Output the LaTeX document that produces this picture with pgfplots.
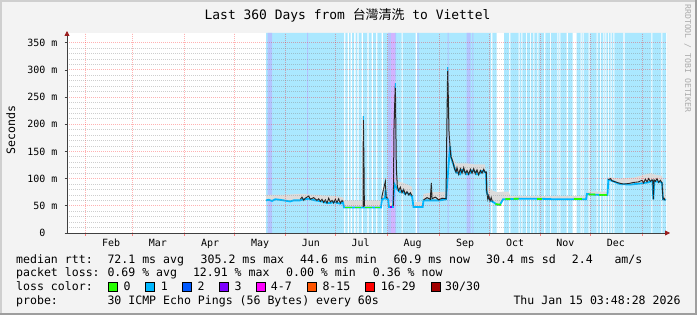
\documentclass[border=0pt]{standalone}
\usepackage{fontspec}
\setmainfont{DejaVu Sans Mono}
\newfontfamily\cjk{Noto Sans CJK TC}
\usepackage{pgfplots}
\usepackage{pgfplotstable}
\pgfplotsset{compat=1.18}
\usetikzlibrary{arrows.meta}
\definecolor{bgc}{HTML}{F3F3F3}
\definecolor{shadea}{HTML}{CFCFCF}
\definecolor{shadeb}{HTML}{9E9E9E}
\definecolor{lossbgA}{HTML}{ABE8FF}
\definecolor{lossbgB}{HTML}{B4C4FF}
\definecolor{lossbgC}{HTML}{D2B4FF}
\definecolor{lA}{HTML}{26FF00}
\definecolor{lB}{HTML}{00B8FF}
\definecolor{lC}{HTML}{0059FF}
\definecolor{lD}{HTML}{7E00FF}
\definecolor{lE}{HTML}{FF00FF}
\definecolor{lF}{HTML}{FF5500}
\definecolor{lG}{HTML}{FF0000}
\definecolor{lH}{HTML}{A10000}
\definecolor{smoke}{HTML}{DCDCDC}
\definecolor{arrowc}{HTML}{9A1C1C}
\definecolor{axisc}{HTML}{404040}
\definecolor{wm}{HTML}{ABABAB}
\newcommand{\fs}[1]{\fontsize{#1}{#1}\selectfont}

\pgfplotstableread{
x y
119.4 60
121 61
123 59
125 62
127.8 61
130 60
133.8 58
136 60
139.8 60
142 62
145.2 63
148.8 60
151 59
153 58
155 56
157.8 55
160 57
161.4 56
163.8 54
165.6 56
166.2 47
188.4 47
189 62
190.8 64
191.1 80
191.5 63
192.6 62
193.2 48
195.6 48
196.4 90
198.2 80
199.8 75
201 78
202.8 72
204 74
205.8 70
207 68
207.9 48
213.4 48
213.9 60
223.8 60
227.4 62
229.8 160
230.4 140
231.6 128
233.4 112
235.8 108
237 116
238.8 112
240 108
241.8 110
243 115
244.8 113
246 108
247.8 110
249 114
250.8 112
251.4 110
251.8 75
253.8 60
256.2 56
258 52
259.8 52
261.6 62
271.8 63
283.8 63
292.8 62
301.8 62
311.4 62
312 72
313.8 71
319.8 70
324.3 70
324.8 98
327 96
331.8 90
337.8 89
343.8 91
348.6 93
351.2 96
351.8 62
352.4 95
355.8 94
357.0 92
357.6 62
359.4 61
}\medtab

\begin{document}
\begin{tikzpicture}[x=1bp,y=1bp]
\useasboundingbox (0,0) rectangle (697,315);
\fill[bgc] (0,0) rectangle (697,315);
\fill[shadea] (0,0) rectangle (2,315);
\fill[shadea] (0,313) rectangle (697,315);
\fill[shadeb] (695,0) rectangle (697,315);
\fill[shadeb] (0,0) rectangle (697,2);
\fill[white] (67,82) rectangle (667,282);
\begin{axis}[
  at={(67bp,82bp)}, anchor=south west, scale only axis,
  width=600bp, height=200bp,
  xmin=0, xmax=360, ymin=0, ymax=367.8,
  axis x line*=bottom, axis y line*=left,
  x axis line style={draw=axisc, line width=0.8bp, shorten >=-3bp, -{Triangle[length=5bp,width=5bp,color=arrowc]}},
  y axis line style={draw=axisc, line width=0.8bp, shorten >=-2bp, -{Triangle[length=5bp,width=5bp,color=arrowc]}},
  axis on top,
  xtick={11.2,39.4,70.4,100.4,130.8,161.2,192.2,223.4,253.4,283.8,313.8,345.0},
  xticklabels={},
  extra x ticks={26.4,54.5,85.8,115.8,146.3,176.1,207.4,238.8,268.8,299.0,329.3},
  extra x tick labels={Feb,Mar,Apr,May,Jun,Jul,Aug,Sep,Oct,Nov,Dec},
  extra x tick style={grid=none, major tick length=0pt},
  ytick={0,50,100,150,200,250,300,350},
  yticklabels={0\hphantom{\ m},50 m,100 m,150 m,200 m,250 m,300 m,350 m},
  minor y tick num=4,
  xmajorgrids, ymajorgrids, yminorgrids,
  major grid style={draw=red, opacity=0.3, line width=0.8bp, dash pattern=on 1bp off 1bp},
  minor grid style={draw=gray, opacity=0.38, line width=0.8bp, dash pattern=on 1bp off 1bp},
  tick align=outside,
  major tick length=2.5bp, minor tick length=0pt,
  xtick style={draw=red!50, line width=0.7bp},
  ytick style={draw=axisc, line width=0.7bp},
  tick label style={font=\fs{10}},
  xticklabel style={inner sep=0pt, anchor=north, yshift=-6bp},
  yticklabel style={inner sep=0pt, anchor=east, xshift=-7bp},
]
% loss background
\addplot[ybar interval, fill=lossbgA, draw=none] coordinates {
(119.4,368) (166.2,0) (167.0,368) (168.4,0) (169.2,368) (170.2,0) (171.0,368) (172.2,0) (173.2,368) (174.2,0) (175.0,368) (176.8,0) (177.6,368) (180.2,0) (181.0,368) (182.8,0) (183.6,368) (185.4,0) (186.2,368) (188.8,0) (189.6,368) (200.8,0) (201.4,368) (209.2,0) (210.0,368) (254.4,0) (255.2,368) (257.8,0) (262.2,368) (265.2,0) (266.0,368) (271.0,0) (271.6,368) (272.6,0) (273.2,368) (275.4,0) (276.0,368) (277.8,0) (278.4,368) (279.8,0) (280.4,368) (282.2,0) (282.8,368) (286.2,0) (287.0,368) (289.8,0) (290.4,368) (294.2,0) (294.8,368) (295.4,0) (296.0,368) (299.8,0) (300.6,368) (303.4,0) (305.8,368) (308.2,0) (308.8,368) (309.4,0) (310.0,368) (313.0,0) (313.6,368) (317.8,0) (318.4,368) (319.8,0) (320.4,368) (321.8,0) (322.4,368) (323.0,0) (323.6,368) (324.6,0) (325.2,368) (326.2,0) (326.8,368) (327.8,0) (328.4,368) (333.8,0) (334.6,368) (350.6,0) (351.2,368) (356.6,0) (357.2,368) (359.4,0)};
\addplot[ybar interval, fill=lossbgB, draw=none] coordinates {
(120.4,368) (123.0,0) (144.0,368) (144.6,0) (192.6,368) (194.4,0) (196.6,368) (197.4,0) (210.4,368) (211.0,0) (228.4,368) (229.0,0) (239.8,368) (242.2,0) (243.2,368) (243.8,0)};
\addplot[ybar interval, fill=lossbgC, draw=none] coordinates {(194.4,368) (196.6,0)};
% smoke: upper bound forward, median backward
\addplot[fill=smoke, draw=none] coordinates {
(119.4,70) (130,70) (140,72) (150,70) (160,68) (165.6,66) (166.2,60) (177.2,60) (177.8,225) (178.4,60) (188.4,60) (189,72) (191.1,100) (191.5,75) (192.6,70) (193.2,56) (195.6,56) (196.2,200) (197.0,285) (197.6,130) (198.2,95) (202,92) (205,88) (207,85) (207.9,57) (213.4,57) (213.9,72) (218,74) (218.6,98) (219,75) (227.4,76) (227.8,175) (228.4,312) (229.2,195) (230.4,150) (231.6,140) (233.4,128) (240,128) (245,126) (250.8,126) (251.8,90) (253.8,80) (258,75) (261.6,76) (265,76) (266,68) (283.8,68) (311.4,68) (312,76) (324.3,76) (324.8,103) (331.8,100) (340,102) (345,106) (350,110) (352,108) (357,105) (359.4,68)
(359.4,61) (357.6,62) (357.0,92) (355.8,94) (352.4,95) (351.8,62) (351.2,96) (348.6,93) (343.8,91) (337.8,89) (331.8,90) (327,96) (324.8,98) (324.3,70) (319.8,70) (313.8,71) (312,72) (311.4,62) (301.8,62) (292.8,62) (283.8,63) (271.8,63) (261.6,62) (259.8,52) (258,52) (256.2,56) (253.8,60) (251.8,75) (251.4,110) (250.8,112) (249,114) (247.8,110) (246,108) (244.8,113) (243,115) (241.8,110) (240,108) (238.8,112) (237,116) (235.8,108) (233.4,112) (231.6,128) (230.4,140) (229.2,186) (228.4,305) (227.8,166) (227.4,62) (223.8,60) (219.0,62) (218.6,90) (218.2,60) (213.9,60) (213.4,48) (207.9,48) (207,68) (205.8,70) (204,74) (202.8,72) (201,78) (199.8,75) (198.2,80) (197.6,120) (197.0,275) (196.2,195) (195.6,48) (193.2,48) (192.6,62) (191.5,63) (191.1,95) (190.8,64) (189,62) (188.4,47) (178.4,47) (177.8,215) (177.2,47) (166.2,47) (165.6,56) (163.8,54) (161.4,56) (160,57) (157.8,55) (155,56) (153,58) (151,59) (148.8,60) (145.2,63) (142,62) (139.8,60) (136,60) (133.8,58) (130,60) (127.8,61) (125,62) (123,59) (121,61) (119.4,60)};
% median line
\addplot[lB, line width=1.8bp] table {\medtab};
\addplot[lA, line width=1.8bp] coordinates {(167,47) (171,47)};
\addplot[lA, line width=1.8bp] coordinates {(173,47) (176.5,47)};
\addplot[lA, line width=1.8bp] coordinates {(179,47) (183,47)};
\addplot[lA, line width=1.8bp] coordinates {(185,47) (188,47)};
\addplot[lD, line width=1.8bp] coordinates {(193.6,48) (195.2,48)};
\addplot[lA, line width=1.8bp] coordinates {(257,53) (260.5,52)};
\addplot[lA, line width=1.8bp] coordinates {(263,62.3) (266,62.6)};
\addplot[lA, line width=1.8bp] coordinates {(268,62.8) (271,63)};
\addplot[lA, line width=1.8bp] coordinates {(282,63) (285,63)};
\addplot[lA, line width=1.8bp] coordinates {(304,62) (309,62)};
\addplot[lA, line width=1.8bp] coordinates {(313,71) (317,70.6)};
\addplot[lA, line width=1.8bp] coordinates {(319,70) (324,70)};
% dark smoke
\addplot[black!85, line width=0.9bp] coordinates {(140,62) (141,66) (142,60) (143,64) (145,68) (146,62) (148,65) (150,60) (151,63) (152,58) (153,62) (154,56) (155,61) (156,55) (157,64) (158,57) (159,60) (160,55) (161,62) (162,56) (163,63) (164,55) (165,60) (165.6,57)};
\addplot[black!85, line width=1bp] coordinates {(177.6,48) (177.8,215) (178.2,120) (178.4,49)};
\addplot[black!85, line width=0.9bp] coordinates {(188.8,63) (189,68) (191,95) (191.4,66) (192.4,64)};
\addplot[black!85, line width=1bp] coordinates {(195.8,50) (196.2,195) (197.0,275) (197.6,120) (198.2,85) (199,78) (200,84) (201,74) (202,80) (203,71) (204,76) (205,70) (206,74) (207,68)};
\addplot[black!85, line width=1bp] coordinates {(214,61) (216,65) (218,62) (218.6,92) (219,63) (221,66) (223,61) (225,64) (227.4,63) (227.8,166) (228.4,305) (229.2,186) (230,150) (230.4,140) (231.6,130) (232.5,118) (233.4,112) (234,120) (235,108) (236,118) (237,110) (238,120) (239,109) (240,115) (241,108) (242,117) (243,110) (244,118) (245,109) (246,116) (247,107) (248,115) (249,110) (250,117) (251,111) (251.6,112) (251.8,78) (252.5,62) (253,68) (253.8,59) (254.5,65) (255.2,58)};
\addplot[black!85, line width=0.9bp] coordinates {(324.8,98) (326,100) (327,96) (329,94) (331,92) (334,90) (337,91) (340,93) (343,94) (345,97) (346,92) (347,99) (348,94) (349,100) (350,95) (351,98) (351.5,96) (351.8,62) (352.2,98) (353,95) (354,100) (355,93) (356,97) (357.0,92) (357.6,62) (358.2,64) (358.8,60)};
% blue tips of the spikes
\addplot[lB, line width=1.2bp] coordinates {(177.8,207) (177.8,215)};
\addplot[lB, line width=1.2bp] coordinates {(197.0,267) (197.0,275)};
\addplot[lB, line width=1.2bp] coordinates {(228.4,297) (228.4,305)};
\end{axis}
% title and labels
\node[anchor=base] at (347.5,295.5) {\fs{13}Last 360 Days from {\cjk 台灣清洗} to Viettel};
\node[anchor=base, rotate=90] at (15,185) {\fs{11.6}Seconds};
\node[anchor=base, rotate=-90, text=wm] at (685,256.5) {\fs{8.2}RRDTOOL / TOBI OETIKER};
% legend rows
\begin{scope}[every node/.style={anchor=base west, inner sep=0pt, font=\fs{11.6}}]
\node at (16,52) {median rtt:};
\node at (107.3,52) {72.1 ms avg};
\node at (200.5,52) {305.2 ms max};
\node at (300,52) {44.6 ms min};
\node at (393.3,52) {60.9 ms now};
\node at (486,52) {30.4 ms sd};
\node at (571.7,52) {2.4};
\node at (614.3,52) {am/s};
\node at (16,38.5) {packet loss:};
\node at (107.3,38.5) {0.69 \% avg};
\node at (192.8,38.5) {12.91 \% max};
\node at (286,38.5) {0.00 \% min};
\node at (372.7,38.5) {0.36 \% now};
\node at (16,24.5) {loss color:};
\node at (123.3,24.5) {0};
\node at (160.7,24.5) {1};
\node at (197.3,24.5) {2};
\node at (234.3,24.5) {3};
\node at (270.7,24.5) {4-7};
\node at (322.3,24.5) {8-15};
\node at (380.7,24.5) {16-29};
\node at (445,24.5) {30/30};
\node at (16,10.5) {probe:};
\node at (107.3,10.5) {30 ICMP Echo Pings (56 Bytes) every 60s};
\node at (513.3,10.5) {Thu Jan 15 03:48:28 2026};
\end{scope}
\foreach \xx/\cc in {108.3/lA,145.7/lB,182.7/lC,219.3/lD,256/lE,307.3/lF,365/lG,431/lH}{
  \filldraw[fill=\cc, draw=black, line width=0.7bp] (\xx,23.3) rectangle ++(9,9);
}
\end{tikzpicture}
\end{document}
